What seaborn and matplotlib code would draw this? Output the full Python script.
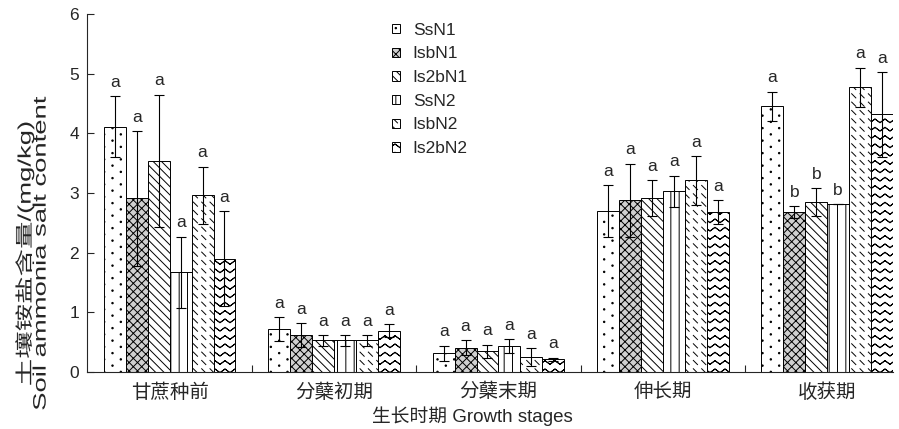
import warnings
import numpy as np
import pandas as pd
import matplotlib
matplotlib.use("Agg")
import matplotlib.pyplot as plt
import matplotlib.patches as mpatches
from matplotlib import hatch as mhatch
from matplotlib import patheffects as pe
from matplotlib.path import Path
from matplotlib.transforms import Affine2D
import seaborn as sns

warnings.filterwarnings("ignore")

# ---------------------------------------------------------------- data
stages = ["甘蔗种前", "分蘖初期", "分蘖末期", "伸长期", "收获期"]
treatments = ["SsN1", "IsbN1", "Is2bN1", "SsN2", "IsbN2", "Is2bN2"]

ssn1_mean = [4.11, 0.72, 0.31, 2.70, 4.45]
isbn1_mean = [2.91, 0.62, 0.41, 2.88, 2.68]
is2bn1_mean = [3.54, 0.53, 0.35, 2.91, 2.85]
ssn2_mean = [1.67, 0.53, 0.43, 3.03, 2.81]
isbn2_mean = [2.96, 0.53, 0.25, 3.21, 4.77]
is2bn2_mean = [1.90, 0.69, 0.21, 2.68, 4.32]

ssn1_err = [0.51, 0.20, 0.13, 0.43, 0.25]
isbn1_err = [1.13, 0.20, 0.12, 0.61, 0.10]
is2bn1_err = [1.11, 0.09, 0.11, 0.30, 0.23]
ssn2_err = [0.60, 0.09, 0.12, 0.26, 0.00]
isbn2_err = [0.48, 0.09, 0.15, 0.41, 0.33]
is2bn2_err = [0.80, 0.11, 0.03, 0.20, 0.71]

ssn1_sig = ["a", "a", "a", "a", "a"]
isbn1_sig = ["a", "a", "a", "a", "b"]
is2bn1_sig = ["a", "a", "a", "a", "b"]
ssn2_sig = ["a", "a", "a", "a", "b"]
isbn2_sig = ["a", "a", "a", "a", "a"]
is2bn2_sig = ["a", "a", "a", "a", "a"]

means = [ssn1_mean, isbn1_mean, is2bn1_mean, ssn2_mean, isbn2_mean, is2bn2_mean]
errs = [ssn1_err, isbn1_err, is2bn1_err, ssn2_err, isbn2_err, is2bn2_err]
sigs = [ssn1_sig, isbn1_sig, is2bn1_sig, ssn2_sig, isbn2_sig, is2bn2_sig]


# ------------------------------------------------- extra hatch patterns
# Agg fills hatch paths as well as stroking them, so each open stroke is
# traced forward and back to give it zero area.
class WaveHatch(mhatch.HatchPatternBase):
    """Horizontal zigzag lines, one set of rows per '~'."""

    def __init__(self, hatch, density):
        self.num_lines = int(hatch.count("~") * density)
        self.periods = max(1, int(round(self.num_lines * 0.85)))
        self.half = 2 * self.periods + 1
        self.per_line = 2 * self.half
        self.num_vertices = self.num_lines * self.per_line

    def set_vertices_and_codes(self, vertices, codes):
        xs = np.linspace(0.0, 1.0, self.half)
        amp = 0.22 / self.num_lines
        sign = np.where(np.arange(self.half) % 2 == 0, -1.0, 1.0)
        for i in range(self.num_lines):
            y = (i + 0.5) / self.num_lines
            ys = y + amp * sign
            start = i * self.per_line
            sl = slice(start, start + self.per_line)
            vertices[sl, 0] = np.concatenate([xs, xs[::-1]])
            vertices[sl, 1] = np.concatenate([ys, ys[::-1]])
            codes[sl] = Path.LINETO
            codes[start] = Path.MOVETO


class DashHatch(mhatch.HatchPatternBase):
    """Short descending dashes on a grid, one grid density per 'd'."""

    def __init__(self, hatch, density):
        self.n = int(hatch.count("d") * density)
        self.num_vertices = self.n * self.n * 2

    def set_vertices_and_codes(self, vertices, codes):
        cell = 1.0 / self.n
        i, j = np.meshgrid(np.arange(self.n), np.arange(self.n))
        x0 = (i.ravel() + 0.2) * cell
        y0 = (j.ravel() + 0.75) * cell
        vertices[0::2, 0] = x0
        vertices[0::2, 1] = y0
        vertices[1::2, 0] = x0 + 0.5 * cell
        vertices[1::2, 1] = y0 - 0.5 * cell
        codes[0::2] = Path.MOVETO
        codes[1::2] = Path.LINETO


class DotHatch(mhatch.HatchPatternBase):
    """Sparse staggered dots, closely spaced rows, wide spacing in a row ('p')."""

    def __init__(self, hatch, density):
        n = hatch.count("p")
        self.rows = int(n * density * 8 / 3)
        self.cols = int(n * density)
        self.seg = 8
        self.num_vertices = self.rows * self.cols * (self.seg + 1)

    def set_vertices_and_codes(self, vertices, codes):
        ang = np.linspace(0, 2 * np.pi, self.seg + 1)
        r = 0.0075
        k = 0
        for row in range(self.rows):
            cy = (row + 0.5) / self.rows
            for col in range(self.cols):
                cx = (col + 0.25 + 0.5 * (row % 2)) / self.cols
                sl = slice(k, k + self.seg + 1)
                vertices[sl, 0] = cx + r * np.cos(ang)
                vertices[sl, 1] = cy + r * np.sin(ang)
                codes[sl] = Path.LINETO
                codes[k] = Path.MOVETO
                codes[k + self.seg] = Path.CLOSEPOLY
                k += self.seg + 1


mhatch._hatch_types.extend([WaveHatch, DashHatch, DotHatch])


class Stretch(pe.AbstractPathEffect):
    """Widen glyphs along the reading direction, about each line's centre."""

    def __init__(self, sx=1.0):
        super().__init__()
        self.sx = sx

    def draw_path(self, renderer, gc, tpath, affine, rgbFace=None):
        v = tpath.vertices
        xc = 0.5 * (v[:, 0].min() + v[:, 0].max()) if len(v) else 0.0
        local = Affine2D().translate(-xc, 0).scale(self.sx, 1).translate(xc, 0)
        renderer.draw_path(gc, tpath, local + affine, rgbFace)


faces = ["white", "#d0d0d0", "white", "white", "white", "white"]
hatches = ["p", "xxxx", "\\\\\\\\", "||", "dd", "~~"]

# ---------------------------------------------------------------- style
sns.set_style("ticks")
plt.rcParams["font.family"] = ["Liberation Sans", "Noto Sans CJK SC"]
plt.rcParams["hatch.linewidth"] = 0.7
plt.rcParams["axes.linewidth"] = 0.8

df = pd.DataFrame(
    {
        "stage": [s for _ in treatments for s in stages],
        "treatment": [t for t in treatments for _ in stages],
        "value": [v for m in means for v in m],
    }
)

fig = plt.figure(figsize=(8.99, 4.29), dpi=100)
ax = fig.add_axes([0.0973, 0.1329, 0.896, 0.8345])

sns.barplot(
    data=df, x="stage", y="value", hue="treatment",
    order=stages, hue_order=treatments,
    palette=["white"] * len(treatments), saturation=1,
    edgecolor="black", linewidth=0.7, width=0.8,
    errorbar=None, legend=False, ax=ax,
)

bar_groups = list(ax.containers)
for k, cont in enumerate(bar_groups):
    xs = []
    for bar in cont:
        bar.set_facecolor(faces[k])
        bar.set_hatch(hatches[k])
        xs.append(bar.get_x() + bar.get_width() / 2)
    ax.errorbar(xs, means[k], yerr=errs[k], fmt="none", ecolor="black",
                elinewidth=0.8, capsize=3.3, capthick=0.8, zorder=3)
    for x, m, e, s in zip(xs, means[k], errs[k], sigs[k]):
        ax.annotate(s, (x, m + e), xytext=(0, 4.5), textcoords="offset points",
                    ha="center", va="bottom", fontsize=12.5)

# ---------------------------------------------------------------- axes
ax.set_xlim(-0.5, 4.4)
ax.set_ylim(0, 6)
ax.set_yticks(range(0, 7))
ax.tick_params(axis="y", direction="in", length=5, width=0.8, labelsize=12.5, pad=6)
ax.set_xticks(range(len(stages)), stages)
ax.tick_params(axis="x", which="major", length=0, labelsize=14, pad=8)
ax.set_xticks([0.5, 1.5, 2.5, 3.5], minor=True)
ax.tick_params(axis="x", which="minor", direction="in", length=5, width=0.8)
sns.despine(ax=ax)

ax.set_xlabel("生长时期 Growth stages", fontsize=13.5)
ax.xaxis.set_label_coords(0.478, -0.095)
ylab = ax.set_ylabel("土壤铵盐含量/(mg/kg)\nSoil ammonia salt content",
                     fontsize=13, linespacing=0.85)
ylab.set_path_effects([Stretch(1.52)])
ax.yaxis.set_label_coords(-0.047, 0.33)

handles = [
    mpatches.Patch(facecolor=faces[k], edgecolor="black", hatch=hatches[k],
                   linewidth=0.7, label=t)
    for k, t in enumerate(treatments)
]
fig.legend(
    handles=handles, loc="upper left", bbox_to_anchor=(0.436, 0.947),
    bbox_transform=fig.transFigure, frameon=False, fontsize=12.5,
    handlelength=0.45, handleheight=0.45, handletextpad=0.75,
    labelspacing=0.5, borderpad=0, borderaxespad=0,
)

fig.savefig("out.png", dpi=100)
